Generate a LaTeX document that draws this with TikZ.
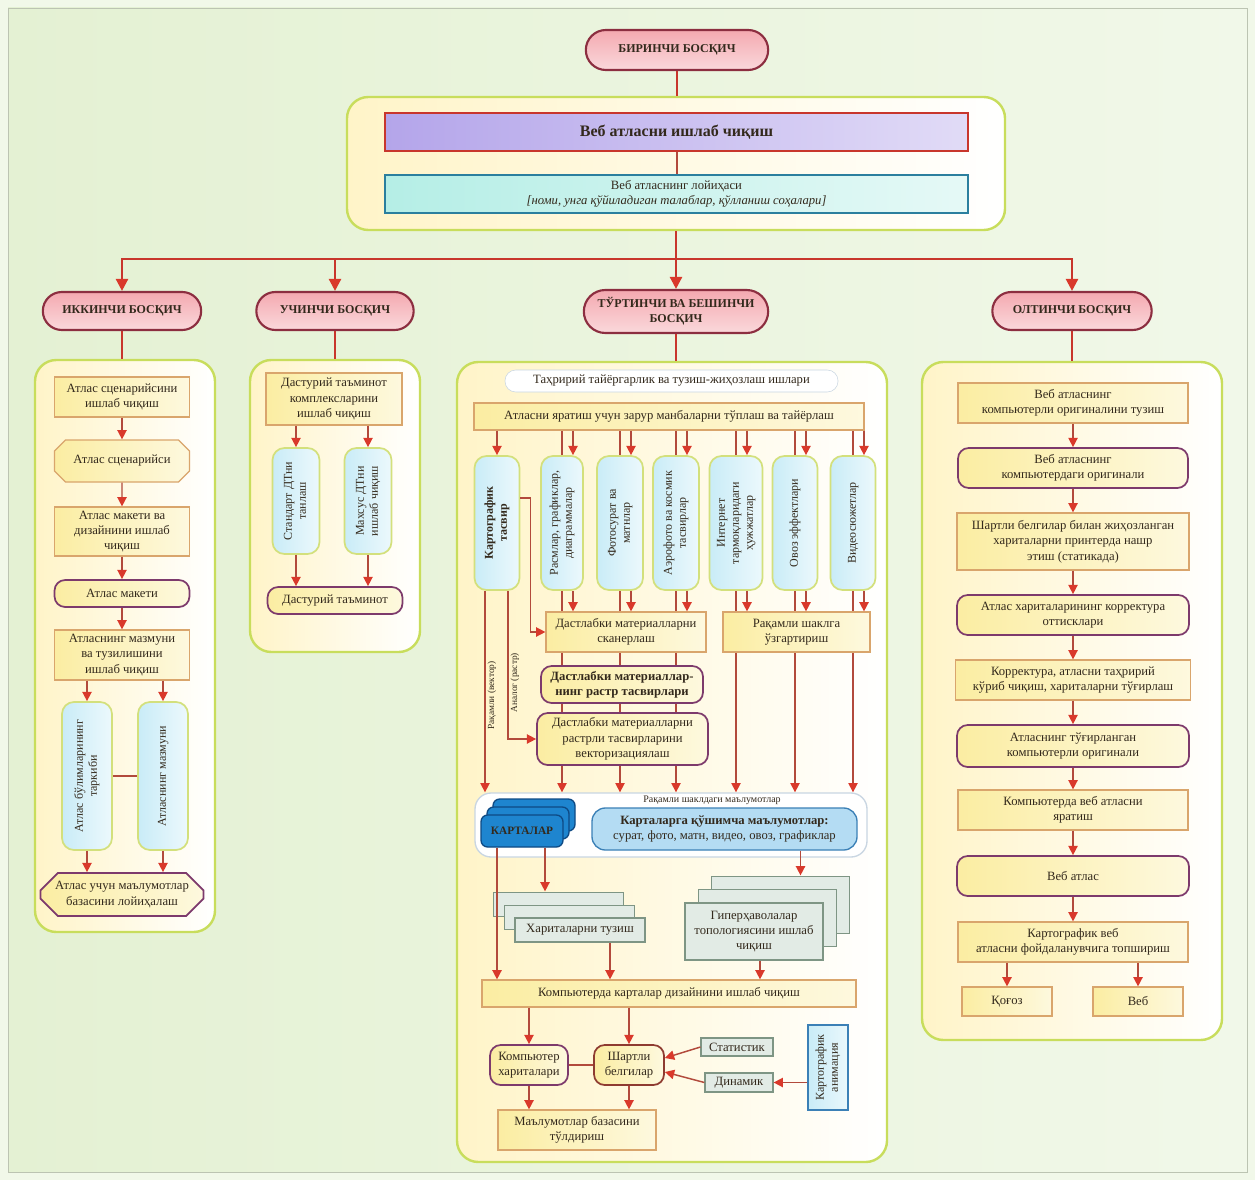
\documentclass[tikz,border=0pt]{standalone}
\usepackage{fontspec}
\setmainfont{Liberation Serif}
\usepackage{graphicx}
\usetikzlibrary{shapes.misc,arrows.meta,shadows,calc}

\definecolor{pagebg}{HTML}{E4F1D3}
\definecolor{pagebg2}{HTML}{F1F8E9}
\definecolor{pnlline}{HTML}{C8DD5C}
\definecolor{pnlfill}{HTML}{FFF4C8}
\definecolor{pillline}{HTML}{8C2E40}
\definecolor{pillfill}{HTML}{F4A9B0}
\definecolor{stageln}{HTML}{C8362C}
\definecolor{arrred}{HTML}{D9392B}
\definecolor{lnbrown}{HTML}{B24A3C}
\definecolor{boxfill}{HTML}{FBEDA2}
\definecolor{boxline}{HTML}{D9A56C}
\definecolor{rndline}{HTML}{7D3A6C}
\definecolor{vfill}{HTML}{C9ECF7}
\definecolor{vline}{HTML}{D3E07C}
\definecolor{txtcol}{HTML}{33291C}
\definecolor{purfill}{HTML}{B4A5EA}
\definecolor{cyanfill}{HTML}{B5EEE6}
\definecolor{cyanline}{HTML}{2B7F9E}
\definecolor{mapblue}{HTML}{1E85CF}
\definecolor{mapline}{HTML}{0E4A84}
\definecolor{infofill}{HTML}{B4DCF3}
\definecolor{infoline}{HTML}{3B80B6}
\definecolor{grfill}{HTML}{E2EBE5}
\definecolor{grline}{HTML}{7E9584}
\definecolor{digline}{HTML}{C9D6E2}

\newcommand{\bxfont}{\fontsize{9.5}{11.5}\selectfont}
\newcommand{\vtfont}{\fontsize{9}{10.5}\selectfont}
\newcommand{\vtxt}[1]{\rotatebox{90}{\begin{tabular}{@{}c@{}}#1\end{tabular}}}

\pgfdeclarelayer{back}
\pgfdeclarelayer{mid}
\pgfsetlayers{back,mid,main}

\tikzset{sz/.style 2 args={minimum width=#1*0.75pt, minimum height=#2*0.75pt, inner sep=1pt}}
\tikzstyle{pill}=[rounded rectangle,
                  draw=pillline,
                  line width=1.6pt,
                  top color=pillfill,
                  bottom color=pillfill!45!white,
                  align=center,
                  font=\fontsize{9}{11}\selectfont\bfseries]
\tikzstyle{panel}=[rectangle,
                   rounded corners=16pt,
                   draw=pnlline,
                   line width=1.8pt,
                   left color=pnlfill,
                   right color=white]
\tikzstyle{box}=[rectangle,
                 draw=boxline,
                 line width=0.9pt,
                 left color=boxfill,
                 right color=boxfill!35!white,
                 align=center,
                 font=\bxfont]
\tikzstyle{rbox}=[box, rounded corners=8pt, draw=rndline, line width=1.3pt]
\tikzstyle{cbox}=[box, chamfered rectangle, chamfered rectangle xsep=10pt]
\tikzstyle{vbox}=[rectangle,
                  rounded corners=9pt,
                  draw=vline,
                  line width=1.3pt,
                  left color=vfill,
                  right color=vfill!35!white,
                  font=\vtfont]
\tikzstyle{gbox}=[rectangle, draw=grline, line width=0.9pt, fill=grfill, align=center, font=\bxfont]
\tikzstyle{ln}=[draw=lnbrown, line width=1.1pt]
\tikzstyle{arr}=[ln, -{Triangle[length=7pt,width=7pt,color=arrred]}]
\tikzstyle{ln2}=[draw=stageln, line width=1.8pt]
\tikzstyle{arr2}=[ln2, -{Triangle[length=9pt,width=9pt,color=arrred]}]
\tikzstyle{lbl}=[font=\fontsize{7}{8}\selectfont, inner sep=1.5pt]

\begin{document}
\begin{tikzpicture}[x=0.75pt,y=-0.75pt, every node/.append style={text=txtcol}]
\useasboundingbox (0,0) rectangle (1255,1180);

\begin{pgfonlayer}{back}
  \fill[pagebg2] (0,0) rectangle (1255,1180);
  \draw[draw=pagebg!60!gray, left color=pagebg, right color=pagebg2] (8,8) rectangle (1247,1172);
  \node[panel, sz={658}{133}] (p1) at (676,163.5) {};
  \node[panel, sz={180}{572}] (p2) at (125,646) {};
  \node[panel, sz={170}{292}] (p3) at (335,506) {};
  \node[panel, sz={430}{800}] (p45) at (672,762) {};
  \node[panel, sz={300}{678}] (p6) at (1072,701) {};
\end{pgfonlayer}

% first stage
\node[pill, sz={185}{40}] (b1) at (677,50) {БИРИНЧИ БОСҚИЧ};
\node[draw=stageln, line width=1.5pt, left color=purfill, right color=purfill!40!white, sz={583}{38},
      font=\fontsize{12}{14}\selectfont\bfseries] (webdev) at (676.5,132) {Веб атласни ишлаб чиқиш};
\node[draw=cyanline, line width=1.2pt, left color=cyanfill, right color=cyanfill!35!white, sz={583}{38},
      align=center, font=\bxfont] (proj) at (676.5,194)
      {Веб атласнинг лойиҳаси\\\textit{[номи, унга қўйиладиган талаблар, қўлланиш соҳалари]}};

\node[pill, sz={161}{38}] (s2) at (122,311) {ИККИНЧИ БОСҚИЧ};
\node[pill, sz={160}{38}] (s3) at (335,311) {УЧИНЧИ БОСҚИЧ};
\node[pill, sz={187}{43}] (s45) at (676,311.5) {ТЎРТИНЧИ ВА БЕШИНЧИ\\БОСҚИЧ};
\node[pill, sz={162}{38}] (s6) at (1072,311) {ОЛТИНЧИ БОСҚИЧ};

\draw[ln2] (b1.south) -- (p1.north -| b1.south);
\draw[ln, line width=1.5pt] (webdev) -- (proj);
\coordinate (hub) at ($(p1.south)+(0,28)$);
\draw[ln2] (p1.south) -- (hub);
\draw[arr2] (hub) -- (s45.north);
\draw[arr2] (hub) -| (s2.north);
\draw[arr2] (hub) -| (s3.north);
\draw[arr2] (hub) -| (s6.north);
\foreach \s/\p in {s2/p2,s3/p3,s45/p45,s6/p6}
  \draw[ln2] (\s.south) -- (\p.north -| \s.south);

% second stage
\node[box, sz={135}{40}] (a1) at (122,397) {Атлас сценарийсини\\ишлаб чиқиш};
\node[cbox, sz={135}{42}] (a2) at (122,461) {Атлас сценарийси};
\node[box, sz={135}{49}] (a3) at (122,531.5) {Атлас макети ва\\дизайнини ишлаб\\чиқиш};
\node[rbox, sz={135}{27}] (a4) at (122,593.5) {Атлас макети};
\node[box, sz={135}{50}] (a5) at (122,655) {Атласнинг мазмуни\\ва тузилишини\\ишлаб чиқиш};
\node[vbox, sz={50}{148}] (a6) at (87,776) {\vtxt{Атлас бўлимларининг\\таркиби}};
\node[vbox, sz={50}{148}] (a7) at (163,776) {\vtxt{Атласнинг мазмуни}};
\node[cbox, draw=rndline, line width=1.3pt, sz={155}{43}] (a8) at (122,894.5) {Атлас учун маълумотлар\\базасини лойиҳалаш};
\foreach \a/\b in {a1/a2,a2/a3,a3/a4,a4/a5}
  \draw[arr] (\a) -- (\b);
\draw[arr] (a5.south -| a6.north) -- (a6.north);
\draw[arr] (a5.south -| a7.north) -- (a7.north);
\draw[arr] (a6.south) -- (a8.north -| a6.south);
\draw[arr] (a7.south) -- (a8.north -| a7.south);
\draw[ln] (a6) -- (a7);

% third stage
\node[box, sz={136}{52}] (d1) at (334,399) {Дастурий таъминот\\комплексларини\\ишлаб чиқиш};
\node[vbox, sz={47}{106}] (d2) at (296,501) {\vtxt{Стандарт ДТни\\танлаш}};
\node[vbox, sz={47}{106}] (d3) at (368,501) {\vtxt{Махсус ДТни\\ишлаб чиқиш}};
\node[rbox, sz={135}{27}] (d4) at (335,600.5) {Дастурий таъминот};
\draw[arr] (d1.south -| d2.north) -- (d2.north);
\draw[arr] (d1.south -| d3.north) -- (d3.north);
\draw[arr] (d2.south) -- (d4.north -| d2.south);
\draw[arr] (d3.south) -- (d4.north -| d3.south);

% fourth and fifth stage
\node[draw=digline, fill=white, rounded corners=8pt, sz={333}{22}, font=\bxfont] (t0) at (671.5,381)
     {Таҳририй тайёргарлик ва тузиш-жиҳозлаш ишлари};
\node[box, sz={390}{27}] (t1) at (669,416.5) {Атласни яратиш учун зарур манбаларни тўплаш ва тайёрлаш};
\node[vbox, sz={45}{134}] (v1) at (497,523) {\bfseries\vtxt{Картографик\\тасвир}};
\node[vbox, sz={42}{134}] (v2) at (562,523) {\vtxt{Расмлар, графиклар,\\диаграммалар}};
\node[vbox, sz={46}{134}] (v3) at (620,523) {\vtxt{Фотосурат ва\\матнлар}};
\node[vbox, sz={46}{134}] (v4) at (676,523) {\vtxt{Аэрофото ва космик\\тасвирлар}};
\node[vbox, sz={53}{134}] (v5) at (736,523) {\vtxt{Интернет\\тармоқларидаги\\ҳужжатлар}};
\node[vbox, sz={45}{134}] (v6) at (795,523) {\vtxt{Овоз эффектлари}};
\node[vbox, sz={45}{134}] (v7) at (853,523) {\vtxt{Видеосюжетлар}};

\node[box, sz={160}{40}] (scan) at (626,632) {Дастлабки материалларни\\сканерлаш};
\node[box, sz={147}{40}] (conv) at (796.5,632) {Рақамли шаклга\\ўзгартириш};
\node[rbox, sz={162}{37}, font=\bxfont\bfseries] (rast) at (622,684.5) {Дастлабки материаллар-\\нинг растр тасвирлари};
\node[rbox, sz={171}{52}] (vect) at (622.5,739) {Дастлабки материалларни\\растрли тасвирларини\\векторизациялаш};

\node[draw=digline, line width=1pt, fill=white, rounded corners=12pt, sz={392}{64}] (dig) at (671,825) {};
\node[font=\fontsize{7.5}{9}\selectfont] (diglbl) at (712,800) {Рақамли шаклдаги маълумотлар};
\node[rectangle, rounded corners=5pt, draw=mapline, line width=1pt, fill=mapblue, sz={82}{32},
      font=\fontsize{8.5}{10}\selectfont\bfseries,
      double copy shadow={shadow xshift=4.5pt, shadow yshift=6pt}] (maps) at (522,831) {КАРТАЛАР};
\node[rectangle, rounded corners=10pt, draw=infoline, line width=1pt, fill=infofill, sz={265}{42},
      align=center, font=\bxfont] (info) at (724.5,829)
      {\textbf{Карталарга қўшимча маълумотлар:}\\сурат, фото, матн, видео, овоз, графиклар};

\begin{pgfonlayer}{mid}
  \foreach \v in {v2,v3,v4,v5,v6,v7}
    \draw[arr] (t1.south -| \v.center) -- (dig.north -| \v.center);
\end{pgfonlayer}
\draw[arr] (t1.south -| v1.north) -- (v1.north);
\foreach \v in {v2,v3,v4,v5,v6,v7}
  \draw[arr] ($(t1.south -| \v.north)+(11,0)$) -- ($(\v.north)+(11,0)$);
\foreach \v in {v2,v3,v4}
  \draw[arr] ($(\v.south)+(11,0)$) -- ($(scan.north -| \v.south)+(11,0)$);
\foreach \v in {v5,v6,v7}
  \draw[arr] ($(\v.south)+(11,0)$) -- ($(conv.north -| \v.south)+(11,0)$);
\draw[arr] ($(v1.east)+(0,-25)$) -- ++(10,0) |- (scan.west);
\draw[arr] ($(v1.south)+(11,0)$) |- (vect.west)
  node[pos=0.31, anchor=north, rotate=90, lbl] {Аналог (растр)};
\draw[arr] ($(v1.south)+(-12,0)$) -- ($(dig.north -| v1.south)+(-12,0)$)
  node[pos=0.52, anchor=north, rotate=90, lbl] {Рақамли (вектор)};

\node[gbox, sz={130}{24}, double copy shadow={shadow xshift=-8pt, shadow yshift=9.5pt}] (har) at (580,930) {Хариталарни тузиш};
\node[gbox, sz={138}{57}, double copy shadow={shadow xshift=10pt, shadow yshift=10pt}] (hyp) at (754,931.5)
     {Гиперҳаволалар\\топологиясини ишлаб\\чиқиш};
\node[box, sz={374}{27}] (comp) at (669,993.5) {Компьютерда карталар дизайнини ишлаб чиқиш};
\draw[arr] ($(maps.south)+(23,0)$) -- ($(har.north -| maps.south)+(23,-26)$);
\draw[arr] ($(info.south)+(76,0)$) -- ($(hyp.north -| info.south)+(76,-27)$);
\draw[arr] ($(maps.south)+(-25,0)$) -- ($(comp.north -| maps.south)+(-25,0)$);
\draw[arr] ($(har.south)+(30,0)$) -- ($(comp.north -| har.south)+(30,0)$);
\draw[arr] ($(hyp.south)+(6,0)$) -- ($(comp.north -| hyp.south)+(6,0)$);

\node[rbox, sz={78}{40}] (ck) at (529,1065) {Компьютер\\хариталари};
\node[rbox, draw=lnbrown!80!black, sz={70}{40}] (sb) at (629,1065) {Шартли\\белгилар};
\node[gbox, sz={72}{18}] (st) at (737,1047) {Статистик};
\node[gbox, sz={68}{19}] (dy) at (739,1082.5) {Динамик};
\node[rectangle, draw=infoline, line width=1pt, left color=vfill, right color=vfill!40!white, sz={40}{85},
      font=\vtfont] (an) at (828,1067.5) {\vtxt{Картографик\\анимация}};
\node[box, sz={158}{40}] (db) at (577,1130) {Маълумотлар базасини\\тўлдириш};
\draw[arr] (comp.south -| ck.north) -- (ck.north);
\draw[arr] (comp.south -| sb.north) -- (sb.north);
\draw[ln] (ck) -- (sb);
\draw[arr] (st.west) -- ($(sb.east)+(0,-7)$);
\draw[arr] (dy.west) -- ($(sb.east)+(0,7)$);
\draw[arr] (an.west |- dy.east) -- (dy.east);
\draw[arr] (ck.south) -- (db.north -| ck.south);
\draw[arr] (sb.south) -- (db.north -| sb.south);

% sixth stage
\node[box, sz={230}{40}] (o1) at (1073,403) {Веб атласнинг\\компьютерли оригиналини тузиш};
\node[rbox, sz={230}{40}] (o2) at (1073,468) {Веб атласнинг\\компьютердаги оригинали};
\node[box, sz={232}{57}] (o3) at (1073,541.5) {Шартли белгилар билан жиҳозланган\\хариталарни принтерда нашр\\этиш (статикада)};
\node[rbox, sz={232}{40}] (o4) at (1073,615) {Атлас хариталарининг корректура\\оттисклари};
\node[box, sz={235}{40}] (o5) at (1073,680) {Корректура, атласни таҳририй\\кўриб чиқиш, хариталарни тўғирлаш};
\node[rbox, sz={232}{42}] (o6) at (1073,746) {Атласнинг тўғирланган\\компьютерли оригинали};
\node[box, sz={230}{40}] (o7) at (1073,810) {Компьютерда веб атласни\\яратиш};
\node[rbox, sz={232}{40}] (o8) at (1073,876) {Веб атлас};
\node[box, sz={230}{40}] (o9) at (1073,942) {Картографик веб\\атласни фойдаланувчига топшириш};
\node[box, sz={90}{29}] (o10) at (1007,1001.5) {Қоғоз};
\node[box, sz={90}{29}] (o11) at (1138,1001.5) {Веб};
\foreach \a/\b in {o1/o2,o2/o3,o3/o4,o4/o5,o5/o6,o6/o7,o7/o8,o8/o9}
  \draw[arr] (\a) -- (\b);
\draw[arr] (o9.south -| o10.north) -- (o10.north);
\draw[arr] (o9.south -| o11.north) -- (o11.north);
\end{tikzpicture}
\end{document}
